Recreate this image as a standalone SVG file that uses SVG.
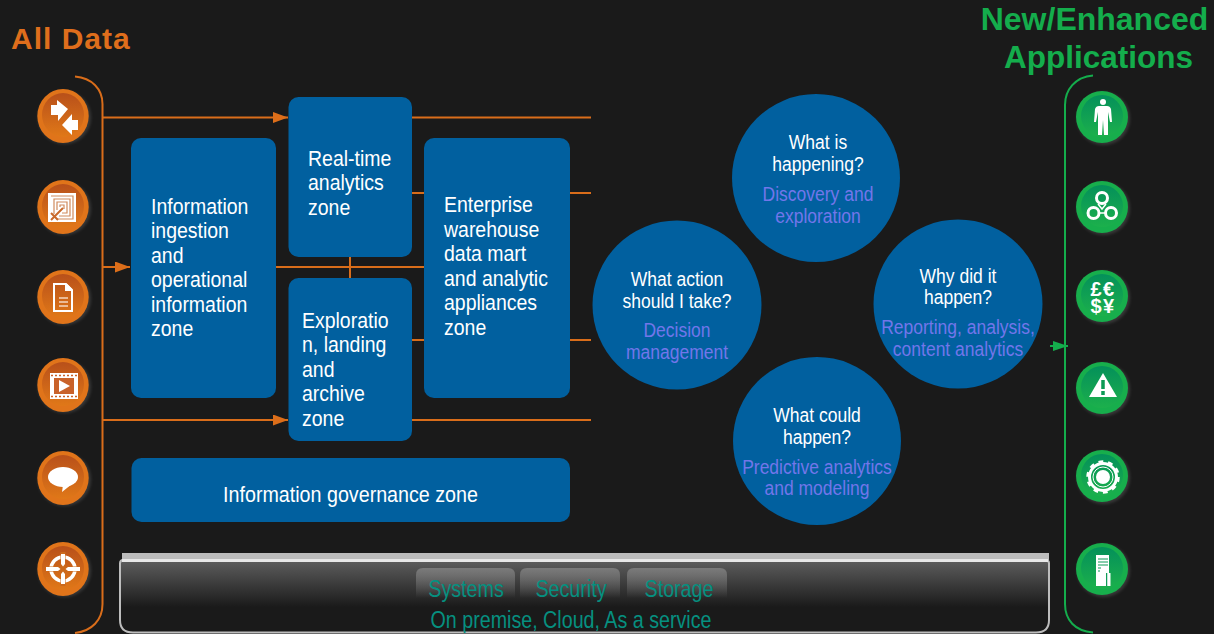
<svg xmlns="http://www.w3.org/2000/svg" width="1214" height="634" viewBox="0 0 1214 634">
<defs>
<linearGradient id="og" x1="0" y1="0" x2="0" y2="1"><stop offset="0" stop-color="#b8501a"/><stop offset="1" stop-color="#e07818"/></linearGradient>
<linearGradient id="gg" x1="0" y1="0" x2="0" y2="1"><stop offset="0" stop-color="#04905a"/><stop offset="1" stop-color="#1cb04c"/></linearGradient>
<linearGradient id="pg" x1="0" y1="0" x2="0" y2="1"><stop offset="0" stop-color="#5e5e5e"/><stop offset="0.65" stop-color="#1a1a1a"/><stop offset="1" stop-color="#1a1a1a"/></linearGradient>
<linearGradient id="bg" x1="0" y1="0" x2="0" y2="1"><stop offset="0" stop-color="#7a7a7a"/><stop offset="1" stop-color="#7a7a7a" stop-opacity="0"/></linearGradient>
<filter id="gl" x="-20%" y="-20%" width="140%" height="140%"><feGaussianBlur stdDeviation="1.5"/></filter>
<marker id="oa" markerUnits="userSpaceOnUse" markerWidth="16" markerHeight="12" refX="15" refY="5.5" orient="auto"><path d="M0 0L15 5.500L0 11z" fill="#dc6e1a"/></marker>
<marker id="ga" markerUnits="userSpaceOnUse" markerWidth="16" markerHeight="12" refX="15" refY="5" orient="auto"><path d="M0 0L15 5L0 10z" fill="#14ad4c"/></marker>
<g id="oc"><circle cx="1.500" cy="1.500" r="26.500" fill="#fff" opacity=".13" filter="url(#gl)"/><ellipse rx="25.700" ry="27" fill="#e0741a"/><ellipse cy="-1" rx="21" ry="22" fill="url(#og)"/></g>
<g id="gc"><circle cx="1.500" cy="1.500" r="26.500" fill="#fff" opacity=".13" filter="url(#gl)"/><circle r="26" fill="#17ae4c"/><circle cy="-1" r="21" fill="url(#gg)"/></g>
</defs>
<style>
text{font-family:"Liberation Sans",Arial,sans-serif}
.z{fill:#01609f}
.t{fill:#fff;font-size:22px}
.q{fill:#fff;font-size:20px;text-anchor:middle}
.a{fill:#7276ea;font-size:20px;text-anchor:middle}
.p{fill:#069080;font-size:24px;text-anchor:middle}
.o{fill:none;stroke:#d96d1a;stroke-width:2}
.g{fill:none;stroke:#14ad4c;stroke-width:2}
.w{fill:#fff}
.wl{fill:none;stroke:#fff}
</style>
<rect width="1214" height="634" fill="#1a1a1a"/>

<text x="11" y="49" font-size="30" font-weight="700" letter-spacing="1" fill="#df6e1c">All Data</text>
<text x="1094.500" y="30" font-size="32" font-weight="700" fill="#14ad4c" text-anchor="middle">New/Enhanced</text>
<text x="1098.500" y="68" font-size="31.500" font-weight="700" fill="#14ad4c" text-anchor="middle">Applications</text>

<g id="connectors">
<path class="o" d="M75 76.500C92 78 102.500 89 102.500 104V604C102.500 620 92 631 75 633"/>
<path class="o" d="M103 117.500H288" marker-end="url(#oa)"/>
<path class="o" d="M103 267H130" marker-end="url(#oa)"/>
<path class="o" d="M103 420H288" marker-end="url(#oa)"/>
<path class="o" d="M276 267H425M350 257V278"/>
<path class="o" d="M412 117.500H591M412 193H591M412 340H591M412 420H591"/>
<path class="g" d="M1093 75.500C1075 77 1065 90 1065 105V604C1065 620 1075 631 1093 632.500"/>
<path class="g" d="M1050 346H1068" marker-end="url(#ga)"/>
</g>

<g id="zone-ingestion"><rect class="z" x="131" y="138" width="145" height="260" rx="10"/>
<text class="t" transform="matrix(.885 0 0 1 151 0)"><tspan x="0" y="214">Information</tspan><tspan x="0" y="238">ingestion</tspan><tspan x="0" y="263">and</tspan><tspan x="0" y="287">operational</tspan><tspan x="0" y="312">information</tspan><tspan x="0" y="336">zone</tspan></text></g>
<g id="zone-realtime"><rect class="z" x="288.500" y="97" width="123.500" height="160" rx="10"/>
<text class="t" transform="matrix(.885 0 0 1 308 0)"><tspan x="0" y="166">Real-time</tspan><tspan x="0" y="190">analytics</tspan><tspan x="0" y="215">zone</tspan></text></g>
<g id="zone-exploration"><rect class="z" x="288.500" y="278" width="123.500" height="163" rx="10"/>
<text class="t" transform="matrix(.885 0 0 1 302 0)"><tspan x="0" y="328">Exploratio</tspan><tspan x="0" y="352">n, landing</tspan><tspan x="0" y="377">and</tspan><tspan x="0" y="401">archive</tspan><tspan x="0" y="426">zone</tspan></text></g>
<g id="zone-warehouse"><rect class="z" x="424" y="138" width="146" height="260" rx="10"/>
<text class="t" transform="matrix(.885 0 0 1 444 0)"><tspan x="0" y="212">Enterprise</tspan><tspan x="0" y="237">warehouse</tspan><tspan x="0" y="261">data mart</tspan><tspan x="0" y="286">and analytic</tspan><tspan x="0" y="310">appliances</tspan><tspan x="0" y="335">zone</tspan></text></g>
<g id="zone-governance"><rect class="z" x="131.500" y="458" width="438.500" height="64" rx="10"/>
<text class="t" transform="matrix(.895 0 0 1 350.500 0)" x="0" y="502" text-anchor="middle">Information governance zone</text></g>

<g id="q-happening"><circle class="z" cx="816" cy="178" r="84"/>
<text class="q" transform="matrix(.875 0 0 1 818 0)"><tspan x="0" y="149">What is</tspan><tspan x="0" y="171">happening?</tspan></text>
<text class="a" transform="matrix(.875 0 0 1 818 0)"><tspan x="0" y="201">Discovery and</tspan><tspan x="0" y="223">exploration</tspan></text></g>
<g id="q-action"><circle class="z" cx="677" cy="305" r="84.500"/>
<text class="q" transform="matrix(.875 0 0 1 677 0)"><tspan x="0" y="286">What action</tspan><tspan x="0" y="308">should I take?</tspan></text>
<text class="a" transform="matrix(.875 0 0 1 677 0)"><tspan x="0" y="337">Decision</tspan><tspan x="0" y="359">management</tspan></text></g>
<g id="q-why"><circle class="z" cx="958" cy="304" r="84.500"/>
<text class="q" transform="matrix(.875 0 0 1 958 0)"><tspan x="0" y="283">Why did it</tspan><tspan x="0" y="304">happen?</tspan></text>
<text class="a" transform="matrix(.875 0 0 1 958 0)"><tspan x="0" y="334">Reporting, analysis,</tspan><tspan x="0" y="356">content analytics</tspan></text></g>
<g id="q-could"><circle class="z" cx="817" cy="441" r="84"/>
<text class="q" transform="matrix(.875 0 0 1 817 0)"><tspan x="0" y="422">What could</tspan><tspan x="0" y="444">happen?</tspan></text>
<text class="a" transform="matrix(.875 0 0 1 817 0)"><tspan x="0" y="474">Predictive analytics</tspan><tspan x="0" y="495">and modeling</tspan></text></g>

<g id="platform">
<rect x="122" y="553" width="927" height="7" fill="#bcbcbc"/>
<path d="M120 563.500Q120 560 123 560H1046Q1049 560 1049 563.500V620Q1049 632.500 1036 632.500H133Q120 632.500 120 620Z" fill="url(#pg)" stroke="#bdbdbd" stroke-width="2"/>
<rect x="122" y="559" width="926" height="3" fill="#e8e8e8"/>
<path d="M416 598V575Q416 568 423 568H508Q515 568 515 575V598Z" fill="url(#bg)"/>
<path d="M520 598V575Q520 568 527 568H613Q620 568 620 575V598Z" fill="url(#bg)"/>
<path d="M627 598V575Q627 568 634 568H720Q727 568 727 575V598Z" fill="url(#bg)"/>
<text class="p" transform="matrix(.82 0 0 1 466 0)" x="0" y="597">Systems</text>
<text class="p" transform="matrix(.82 0 0 1 571 0)" x="0" y="597">Security</text>
<text class="p" transform="matrix(.82 0 0 1 679 0)" x="0" y="597">Storage</text>
<text class="p" transform="matrix(.82 0 0 1 571 0)" x="0" y="628">On premise, Cloud, As a service</text>
</g>

<g id="in-1"><use href="#oc" x="63" y="116"/><path class="w" d="M51 105H57V100L68 109L58 121V115H51ZM78 120H72V114L62 125L72 135V130H78Z"/></g>
<g id="in-2"><use href="#oc" x="63" y="207"/><rect class="w" x="48" y="193" width="28" height="29"/><path fill="none" stroke="#d08a5c" stroke-width="1.200" d="M51 196H73V219H56M54 214V199H70V216H59M57 210V202H67V213H62M60 207V205H64V209"/><path stroke="#c96a2c" stroke-width="2" d="M51 220L63 208M51 213L58 220"/></g>
<g id="in-3"><use href="#oc" x="63" y="297"/><path class="wl" stroke-width="2" d="M54 284H66L72 290V311H54Z"/><path class="w" d="M65 284H67L72 289V291H65Z"/><path fill="none" stroke="#f4d6c0" stroke-width="1.500" d="M59 298H68M59 302H68M59 306H68"/></g>
<g id="in-4"><use href="#oc" x="63" y="385"/><rect class="w" x="50" y="373" width="28" height="26"/><rect x="54" y="378" width="20" height="16" fill="#c9622a"/><path class="w" d="M59 380L70 386L59 392Z"/><path stroke="#c9622a" stroke-width="1.500" stroke-dasharray="2 2" d="M51 375.500H77M51 396.500H77"/></g>
<g id="in-5"><use href="#oc" x="63" y="478"/><ellipse class="w" cx="63" cy="477" rx="15" ry="10"/><path class="w" d="M63 485L62 492L72 484Z"/></g>
<g id="in-6"><use href="#oc" x="63" y="569"/><circle class="wl" cx="63" cy="569" r="12" stroke-width="3.500"/><path fill="none" stroke="#cb6a1c" stroke-width="5" d="M63 552V586M46 569H80"/><path class="w" d="M46 567H58L60.500 569L58 571H46ZM80 567H68L65.500 569L68 571H80ZM61 554V564L63 566.500L65 564V554ZM61 584V574L63 571.500L65 574V584Z"/></g>

<g id="out-1"><use href="#gc" x="1102" y="117"/><circle class="w" cx="1103" cy="102" r="3"/><path class="w" d="M1099 106H1107Q1110 106 1111 109L1112 122H1110L1108 112V135H1104L1103 120L1102 135H1098V112L1096 122H1094L1095 109Q1096 106 1099 106Z"/></g>
<g id="out-2"><use href="#gc" x="1102" y="207"/><g class="wl" stroke-width="3"><circle cx="1102" cy="198" r="5.500"/><circle cx="1093.500" cy="213" r="5.500"/><circle cx="1111" cy="213" r="5.500"/></g><path class="wl" stroke-width="1.500" d="M1098 204L1102 209L1106 204M1099 213H1105"/></g>
<g id="out-3"><use href="#gc" x="1102" y="296"/><text font-size="20" font-weight="700" letter-spacing="1.500" fill="#fff" text-anchor="middle"><tspan x="1103" y="296">£€</tspan><tspan x="1103" y="313">$¥</tspan></text></g>
<g id="out-4"><use href="#gc" x="1102" y="388"/><path class="w" d="M1103 373L1117 397H1089Z"/><path d="M1103 380V389M1103 391V395" stroke="#0d9a55" stroke-width="3.500"/></g>
<g id="out-5"><use href="#gc" x="1102" y="476"/><circle cx="1103" cy="477" r="15" fill="none" stroke="#fff" stroke-width="3.500" stroke-dasharray="4.700 4.700"/><circle cx="1103" cy="477" r="13.500" fill="none" stroke="#fff" stroke-width="3"/><circle cx="1103" cy="477" r="10" fill="none" stroke="#fff" stroke-width="1"/><circle class="w" cx="1103" cy="477" r="7"/></g>
<g id="out-6"><use href="#gc" x="1102" y="569"/><rect class="w" x="1096" y="555" width="13" height="31"/><rect x="1106" y="573" width="1.500" height="13" fill="#0f9c58"/><rect class="w" x="1107.500" y="573" width="3" height="13"/><path stroke="#0f9c58" stroke-width="1.200" d="M1098 559H1108M1098 562H1108M1098 565H1108M1098 568H1101M1098 571H1100"/></g>
</svg>
